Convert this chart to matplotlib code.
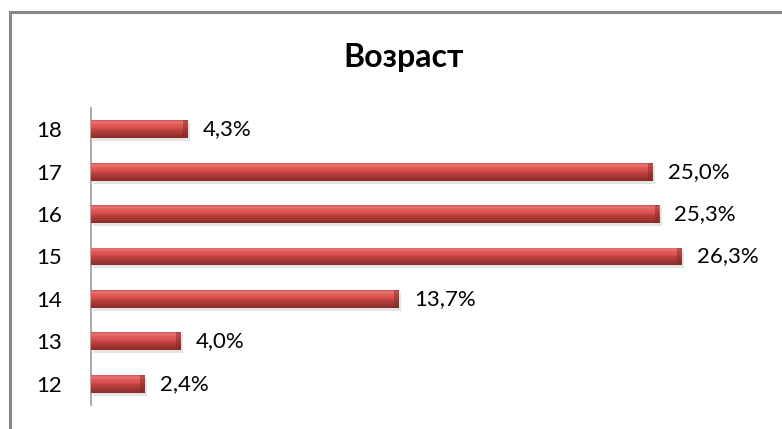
import matplotlib
matplotlib.use("Agg")
import matplotlib.pyplot as plt
import numpy as np
from matplotlib.patches import Rectangle
from matplotlib.colors import LinearSegmentedColormap

categories = ["12", "13", "14", "15", "16", "17", "18"]
values = [2.4, 4.0, 13.7, 26.3, 25.3, 25.0, 4.3]
labels = ["2,4%", "4,0%", "13,7%", "26,3%", "25,3%", "25,0%", "4,3%"]
title = "Возраст"

plt.rcParams['font.family'] = ['Lato', 'DejaVu Sans']

fig = plt.figure(figsize=(7.82, 4.29), dpi=100)
# outer frame (only top and left visible)
fig.add_artist(Rectangle((9.5/782, -0.1), 2.0, 1.1 - 12.5/429, transform=fig.transFigure,
                         fill=False, edgecolor='#888888', linewidth=2.2))

ax = fig.add_axes([91/782, 24/429, 674/782, 297/429])
y = np.arange(len(categories))
h = 0.42
bars = ax.barh(y, values, height=h, color='#C0504D', edgecolor='none', zorder=3)

grad = np.linspace(0, 1, 64).reshape(-1, 1)
cmap = LinearSegmentedColormap.from_list('bev', [(0.0, '#8A2C2A'), (0.25, '#A53836'), (0.48, '#C24441'),
                                                  (0.55, '#D94E4B'), (0.78, '#E45E5C'), (0.9, '#EC7A78'),
                                                  (1.0, '#C94C49')])
for b, v, yy in zip(bars, values, y):
    # soft shadow
    ax.barh(yy - 0.07, v, height=h, left=0.1, color='#CFCFCF', alpha=0.55, zorder=2, edgecolor='none')
    im = ax.imshow(grad, extent=[0, v, yy - h / 2, yy + h / 2], origin='lower', aspect='auto',
                   cmap=cmap, zorder=4, interpolation='bicubic')
    im.set_clip_path(b)
    # darker right end bevel
    ax.barh(yy, 0.2, left=v - 0.2, height=h, color='#7E2725', alpha=0.45, zorder=5, edgecolor='none')

for yy, v, lab in zip(y, values, labels):
    ax.annotate(lab, (v, yy), xytext=(15, 0), textcoords='offset pixels',
                va='center', ha='left', fontsize=16, color='black')

ax.set_xlim(0, 30)
ax.set_ylim(-0.5, len(categories) - 0.5)
ax.set_yticks(y)
ax.set_yticklabels(categories, fontsize=16)
ax.tick_params(axis='y', length=0, pad=21)
ax.set_xticks([])
for s in ['top', 'right', 'bottom']:
    ax.spines[s].set_visible(False)
ax.spines['left'].set_color('#999999')
ax.spines['left'].set_linewidth(1.2)

fig.text(404/782, 1 - 57/429, title, ha='center', va='center', fontsize=23, fontweight='bold')

fig.savefig('out.png', dpi=100)
